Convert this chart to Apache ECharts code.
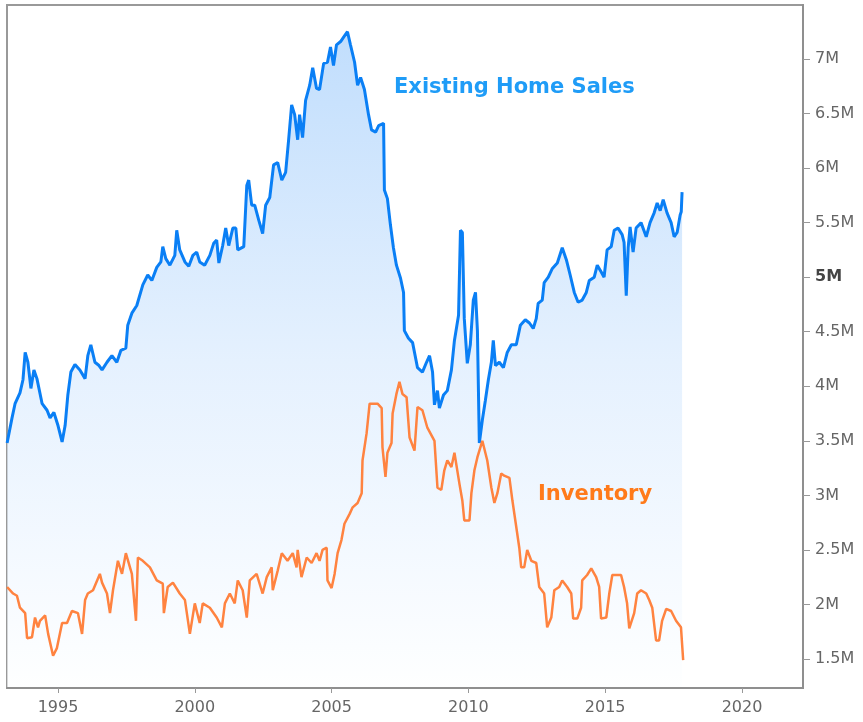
<!DOCTYPE html>
<html>
<head>
<meta charset="utf-8">
<title>Existing Home Sales vs Inventory</title>
<script src="https://cdn.jsdelivr.net/npm/echarts@6/dist/echarts.min.js"></script>
<style>
  html, body { margin: 0; padding: 0; background: #fff; }
  #chart { width: 863px; height: 722px; }
</style>
</head>
<body>
<div id="chart"></div>
<script>
// [year, millions]
var existingSales = [
  [1993.14, 3.48], [1993.32, 3.71], [1993.43, 3.84], [1993.61, 3.94], [1993.72, 4.06], [1993.80, 4.31],
  [1993.90, 4.22], [1994.01, 3.98], [1994.12, 4.15], [1994.23, 4.07], [1994.42, 3.84], [1994.60, 3.78],
  [1994.71, 3.71], [1994.85, 3.76], [1995.00, 3.64], [1995.15, 3.49], [1995.26, 3.64], [1995.36, 3.92],
  [1995.47, 4.13], [1995.62, 4.20], [1995.80, 4.15], [1995.99, 4.07], [1996.09, 4.28], [1996.20, 4.38],
  [1996.35, 4.22], [1996.50, 4.19], [1996.61, 4.15], [1996.79, 4.22], [1996.97, 4.28], [1997.15, 4.22],
  [1997.30, 4.33], [1997.48, 4.35], [1997.55, 4.56], [1997.70, 4.67], [1997.88, 4.74], [1998.10, 4.93],
  [1998.28, 5.02], [1998.43, 4.97], [1998.61, 5.09], [1998.76, 5.14], [1998.83, 5.28], [1998.94, 5.17],
  [1999.09, 5.11], [1999.27, 5.20], [1999.34, 5.43], [1999.45, 5.25], [1999.64, 5.14], [1999.78, 5.10],
  [1999.93, 5.20], [2000.07, 5.23], [2000.18, 5.14], [2000.36, 5.11], [2000.55, 5.20], [2000.69, 5.31],
  [2000.80, 5.34], [2000.88, 5.13], [2001.02, 5.29], [2001.13, 5.45], [2001.24, 5.29], [2001.39, 5.45],
  [2001.50, 5.45], [2001.57, 5.25], [2001.79, 5.28], [2001.90, 5.84], [2001.97, 5.89], [2002.08, 5.66],
  [2002.19, 5.66], [2002.34, 5.52], [2002.48, 5.40], [2002.59, 5.66], [2002.74, 5.73], [2002.88, 6.03],
  [2003.03, 6.05], [2003.18, 5.89], [2003.32, 5.96], [2003.43, 6.26], [2003.54, 6.58], [2003.65, 6.49],
  [2003.76, 6.26], [2003.83, 6.49], [2003.94, 6.28], [2004.05, 6.62], [2004.20, 6.76], [2004.31, 6.92],
  [2004.45, 6.73], [2004.56, 6.72], [2004.71, 6.96], [2004.85, 6.97], [2004.96, 7.11], [2005.07, 6.94],
  [2005.18, 7.13], [2005.33, 7.16], [2005.44, 7.20], [2005.58, 7.25], [2005.69, 7.13], [2005.84, 6.97],
  [2005.95, 6.76], [2006.06, 6.83], [2006.20, 6.72], [2006.35, 6.49], [2006.46, 6.35], [2006.61, 6.33],
  [2006.72, 6.39], [2006.90, 6.41], [2006.93, 5.80], [2007.04, 5.72], [2007.15, 5.48], [2007.26, 5.27],
  [2007.37, 5.11], [2007.52, 4.99], [2007.63, 4.86], [2007.66, 4.51], [2007.81, 4.44], [2007.96, 4.40],
  [2008.14, 4.17], [2008.32, 4.13], [2008.47, 4.22], [2008.58, 4.28], [2008.69, 4.13], [2008.76, 3.83],
  [2008.87, 3.96], [2008.94, 3.80], [2009.09, 3.92], [2009.23, 3.96], [2009.38, 4.15], [2009.49, 4.42],
  [2009.64, 4.65], [2009.71, 5.43], [2009.78, 5.41], [2009.85, 4.62], [2009.96, 4.21], [2010.07, 4.38],
  [2010.18, 4.79], [2010.26, 4.86], [2010.33, 4.51], [2010.40, 3.48], [2010.51, 3.69], [2010.62, 3.87],
  [2010.73, 4.06], [2010.84, 4.22], [2010.91, 4.42], [2010.99, 4.19], [2011.13, 4.22], [2011.28, 4.17],
  [2011.42, 4.31], [2011.57, 4.38], [2011.75, 4.38], [2011.90, 4.56], [2012.08, 4.61], [2012.23, 4.58],
  [2012.37, 4.53], [2012.48, 4.62], [2012.55, 4.76], [2012.70, 4.79], [2012.77, 4.95], [2012.92, 5.00],
  [2013.07, 5.08], [2013.25, 5.13], [2013.43, 5.27], [2013.58, 5.16], [2013.72, 5.02], [2013.87, 4.86],
  [2014.01, 4.77], [2014.16, 4.79], [2014.31, 4.86], [2014.42, 4.97], [2014.60, 5.00], [2014.71, 5.11],
  [2014.85, 5.05], [2014.96, 5.00], [2015.07, 5.25], [2015.22, 5.28], [2015.33, 5.43], [2015.47, 5.45],
  [2015.62, 5.39], [2015.69, 5.32], [2015.77, 4.83], [2015.84, 5.27], [2015.91, 5.46], [2016.02, 5.23],
  [2016.13, 5.45], [2016.31, 5.50], [2016.50, 5.37], [2016.64, 5.50], [2016.79, 5.59], [2016.90, 5.68],
  [2017.01, 5.61], [2017.12, 5.71], [2017.26, 5.59], [2017.41, 5.50], [2017.52, 5.37], [2017.63, 5.41],
  [2017.74, 5.57], [2017.78, 5.60], [2017.81, 5.78]
];

var inventory = [
  [1993.14, 2.16], [1993.36, 2.10], [1993.50, 2.08], [1993.61, 1.97], [1993.80, 1.92], [1993.87, 1.69],
  [1994.05, 1.70], [1994.16, 1.88], [1994.27, 1.79], [1994.34, 1.85], [1994.53, 1.90], [1994.64, 1.73],
  [1994.82, 1.53], [1994.96, 1.60], [1995.15, 1.83], [1995.33, 1.83], [1995.51, 1.94], [1995.73, 1.92],
  [1995.88, 1.73], [1995.99, 2.04], [1996.09, 2.10], [1996.28, 2.13], [1996.53, 2.28], [1996.61, 2.20],
  [1996.79, 2.10], [1996.90, 1.92], [1997.01, 2.13], [1997.19, 2.40], [1997.34, 2.28], [1997.48, 2.47],
  [1997.70, 2.28], [1997.85, 1.85], [1997.92, 2.43], [1998.10, 2.40], [1998.36, 2.34], [1998.61, 2.22],
  [1998.83, 2.19], [1998.87, 1.92], [1999.01, 2.16], [1999.20, 2.20], [1999.45, 2.10], [1999.64, 2.04],
  [1999.82, 1.73], [2000.00, 2.01], [2000.18, 1.83], [2000.29, 2.01], [2000.55, 1.97], [2000.80, 1.88],
  [2000.99, 1.79], [2001.10, 2.01], [2001.28, 2.10], [2001.46, 2.01], [2001.57, 2.22], [2001.75, 2.13],
  [2001.90, 1.88], [2002.01, 2.22], [2002.26, 2.28], [2002.48, 2.10], [2002.63, 2.25], [2002.81, 2.34],
  [2002.85, 2.13], [2003.03, 2.31], [2003.18, 2.47], [2003.39, 2.40], [2003.58, 2.47], [2003.72, 2.34],
  [2003.76, 2.50], [2003.90, 2.25], [2004.09, 2.43], [2004.27, 2.38], [2004.45, 2.47], [2004.56, 2.40],
  [2004.67, 2.50], [2004.82, 2.52], [2004.85, 2.22], [2005.00, 2.15], [2005.11, 2.28], [2005.22, 2.47],
  [2005.36, 2.59], [2005.47, 2.74], [2005.66, 2.83], [2005.77, 2.89], [2005.95, 2.93], [2006.10, 3.02],
  [2006.13, 3.32], [2006.28, 3.57], [2006.39, 3.84], [2006.68, 3.84], [2006.83, 3.80], [2006.86, 3.44],
  [2006.97, 3.17], [2007.04, 3.39], [2007.19, 3.48], [2007.23, 3.75], [2007.37, 3.93], [2007.48, 4.04],
  [2007.59, 3.93], [2007.74, 3.90], [2007.85, 3.53], [2008.03, 3.41], [2008.14, 3.81], [2008.32, 3.78],
  [2008.50, 3.62], [2008.76, 3.50], [2008.87, 3.07], [2009.01, 3.05], [2009.12, 3.23], [2009.23, 3.32],
  [2009.38, 3.26], [2009.49, 3.39], [2009.67, 3.11], [2009.78, 2.95], [2009.85, 2.77], [2010.04, 2.77],
  [2010.11, 3.02], [2010.22, 3.23], [2010.33, 3.35], [2010.51, 3.50], [2010.69, 3.32], [2010.84, 3.07],
  [2010.95, 2.93], [2011.06, 3.02], [2011.20, 3.20], [2011.31, 3.18], [2011.50, 3.16], [2011.61, 2.95],
  [2011.75, 2.71], [2011.86, 2.52], [2011.93, 2.34], [2012.04, 2.34], [2012.15, 2.50], [2012.30, 2.40],
  [2012.48, 2.38], [2012.59, 2.16], [2012.77, 2.10], [2012.88, 1.79], [2013.03, 1.88], [2013.14, 2.13],
  [2013.32, 2.16], [2013.43, 2.22], [2013.61, 2.16], [2013.76, 2.10], [2013.83, 1.87], [2013.98, 1.87],
  [2014.12, 1.97], [2014.16, 2.22], [2014.34, 2.27], [2014.49, 2.33], [2014.67, 2.25], [2014.78, 2.16],
  [2014.85, 1.87], [2015.04, 1.88], [2015.15, 2.10], [2015.26, 2.27], [2015.58, 2.27], [2015.69, 2.16],
  [2015.80, 2.01], [2015.88, 1.78], [2016.06, 1.92], [2016.17, 2.10], [2016.31, 2.13], [2016.50, 2.10],
  [2016.61, 2.04], [2016.72, 1.97], [2016.86, 1.67], [2016.97, 1.67], [2017.08, 1.85], [2017.23, 1.96],
  [2017.41, 1.94], [2017.59, 1.85], [2017.77, 1.79], [2017.81, 1.64], [2017.85, 1.49]
];

var yearTicks = [1995, 2000, 2005, 2010, 2015, 2020];
var valueTicks = [1.5, 2, 2.5, 3, 3.5, 4, 4.5, 5, 5.5, 6, 6.5, 7];

var chart = echarts.init(document.getElementById('chart'));

chart.setOption({
  animation: false,
  textStyle: { fontFamily: 'DejaVu Sans' },
  grid: {
    left: 7, right: 60, top: 5, bottom: 34,
    show: true, borderColor: '#999', borderWidth: 2
  },
  xAxis: {
    type: 'value',
    min: 1993.136,
    max: 2022.23,
    z: 10,
    axisLine: { show: true, lineStyle: { color: '#8f8f8f', width: 2 } },
    axisTick: { show: true, customValues: yearTicks, length: 5, lineStyle: { color: '#999' } },
    axisLabel: {
      customValues: yearTicks,
      formatter: function (v) { return String(v); },
      color: '#666', fontSize: 16, margin: 12
    },
    splitLine: { show: false }
  },
  yAxis: {
    type: 'value',
    position: 'right',
    min: 1.234,
    max: 7.495,
    z: 10,
    axisLine: { show: true, lineStyle: { color: '#8f8f8f', width: 2 } },
    axisTick: { show: true, customValues: valueTicks, length: 7, lineStyle: { color: '#999' } },
    axisLabel: {
      customValues: valueTicks,
      formatter: function (v) { return v === 5 ? '{b|5M}' : v + 'M'; },
      color: '#666', fontSize: 16, margin: 12,
      rich: { b: { fontWeight: 'bold', color: '#444', fontSize: 16 } }
    },
    splitLine: { show: false }
  },
  graphic: [
    {
      type: 'text', left: 394, top: 77, z: 10,
      style: { text: 'Existing Home Sales', fill: '#1f9cf7', font: 'bold 21px "DejaVu Sans"' }
    },
    {
      type: 'text', left: 538, top: 484, z: 10,
      style: { text: 'Inventory', fill: '#ff7a1a', font: 'bold 21px "DejaVu Sans"' }
    }
  ],
  series: [
    {
      name: 'Existing Home Sales',
      type: 'line',
      data: existingSales,
      showSymbol: false,
      lineStyle: { color: '#0a7ff5', width: 3 },
      itemStyle: { color: '#0a7ff5' },
      areaStyle: {
        color: new echarts.graphic.LinearGradient(0, 0, 0, 1, [
          { offset: 0, color: '#a6cffb' },
          { offset: 0.5, color: '#d9eafd' },
          { offset: 1, color: '#fdfeff' }
        ])
      },
      z: 2
    },
    {
      name: 'Inventory',
      type: 'line',
      data: inventory,
      showSymbol: false,
      lineStyle: { color: '#ff8340', width: 2.5 },
      itemStyle: { color: '#ff8340' },
      z: 3
    }
  ]
});
</script>
</body>
</html>
